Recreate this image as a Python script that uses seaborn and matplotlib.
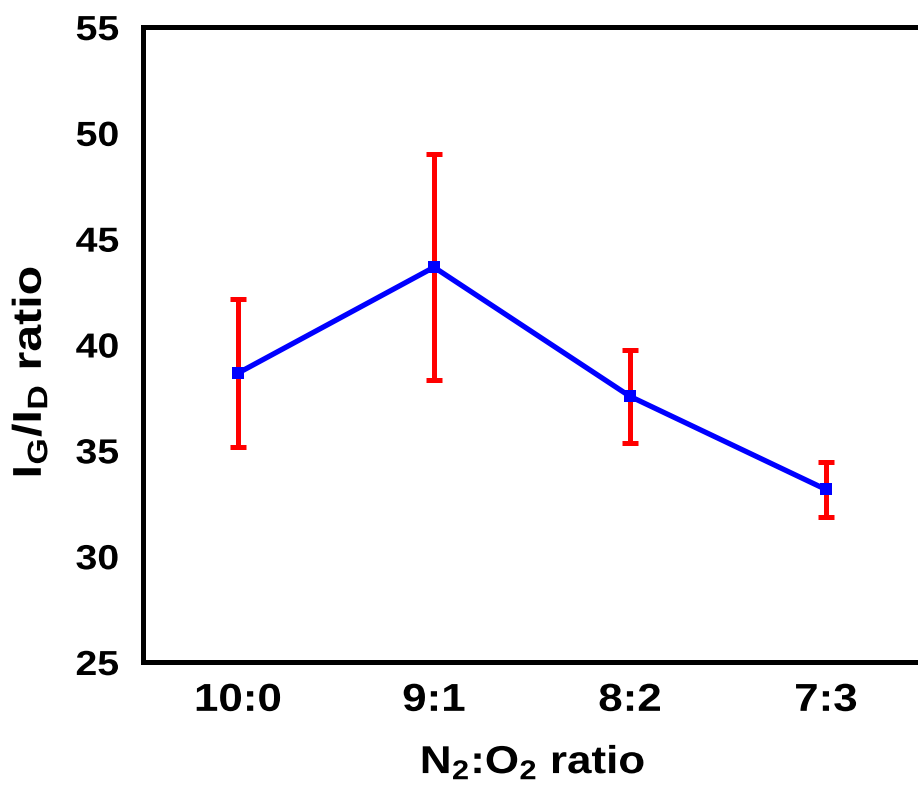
import matplotlib
matplotlib.use("Agg")
import matplotlib.pyplot as plt
from matplotlib.patheffects import AbstractPathEffect
from matplotlib.transforms import Affine2D
import seaborn as sns
import pandas as pd

# Data
ratios = ["10:0", "9:1", "8:2", "7:3"]
ig_id = [38.65, 43.65, 37.55, 33.15]
ig_id_err = [3.5, 5.35, 2.2, 1.3]


class HStretch(AbstractPathEffect):
    """Widen glyphs along the text direction, about the string's centre."""

    def __init__(self, sx):
        super().__init__()
        self._sx = sx

    def draw_path(self, renderer, gc, tpath, affine, rgbFace=None):
        ext = tpath.get_extents()
        cx = 0.5 * (ext.x0 + ext.x1)
        pre = Affine2D().translate(-cx, 0).scale(self._sx, 1).translate(cx, 0)
        renderer.draw_path(gc, tpath, pre + affine, rgbFace)


sns.set_theme(style="white")
family = "Liberation Sans"
plt.rcParams["font.family"] = [family, "DejaVu Sans"]
plt.rcParams["font.weight"] = "bold"
plt.rcParams["mathtext.fontset"] = "custom"
plt.rcParams["mathtext.rm"] = f"{family}:bold"
plt.rcParams["mathtext.bf"] = f"{family}:bold"
plt.rcParams["mathtext.it"] = f"{family}:bold"
plt.rcParams["axes.labelcolor"] = "black"

stretch = [HStretch(1.13)]

df = pd.DataFrame({"pos": range(len(ratios)), "value": ig_id})

fig = plt.figure(figsize=(9.18, 7.93), dpi=100)
ax = fig.add_axes([143 / 918, 1 - 662 / 793, (921 - 143) / 918, (662 - 27) / 793])

ax.errorbar(df["pos"], df["value"], yerr=ig_id_err, fmt="none", ecolor="#ff0000",
            elinewidth=3.6, capsize=6, capthick=3.6, zorder=2)
sns.lineplot(data=df, x="pos", y="value", ax=ax, color="#0000ff", linewidth=3.8,
             marker="s", markersize=9, markeredgewidth=0, zorder=3)

ax.set_xlim(-0.485, 3.485)
ax.set_ylim(25, 55)
ax.set_yticks(range(25, 56, 5))
ax.set_xticks(range(len(ratios)))
ax.set_xticklabels(ratios)

for side in ["left", "bottom", "top", "right"]:
    ax.spines[side].set_linewidth(3.6)
    ax.spines[side].set_color("black")
ax.tick_params(axis="both", which="major", direction="out", length=8, width=3.6,
               colors="black")
ax.tick_params(axis="y", labelsize=25, pad=11)
ax.tick_params(axis="x", labelsize=28, pad=7)
for tick in ax.xaxis.get_major_ticks() + ax.yaxis.get_major_ticks():
    tick.label1.set_fontweight("bold")
    tick.label1.set_path_effects(stretch)

ax.set_xlabel(r"N$_2$:O$_2$ ratio", fontsize=28, fontweight="bold",
              color="black", path_effects=stretch)
ax.set_ylabel(r"I$_{G}$/I$_{D}$ ratio", fontsize=29, fontweight="bold",
              color="black", path_effects=[HStretch(1.2)])
ax.xaxis.set_label_coords(0.501, -0.128)
ax.yaxis.set_label_coords(-0.12, 0.457)

fig.savefig("out.png", dpi=100)
